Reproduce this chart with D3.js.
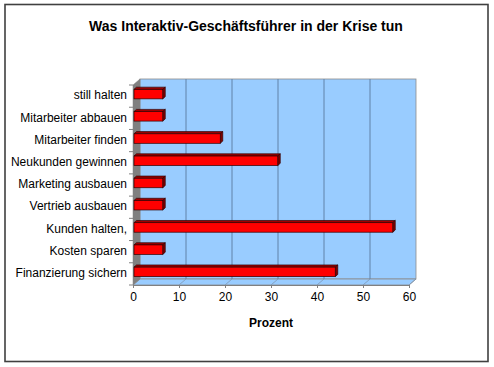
<!DOCTYPE html>
<html>
<head>
<meta charset="utf-8">
<script src="https://cdn.jsdelivr.net/npm/d3@7"></script>
<style>
  body { margin: 0; background: #fff; }
  svg { display: block; font-family: Arial, "Liberation Sans", sans-serif; }
</style>
</head>
<body>
<div id="chart"></div>
<script>
const title = "Was Interaktiv-Geschäftsführer in der Krise tun";
const categories = [
  "still halten",
  "Mitarbeiter abbauen",
  "Mitarbeiter finden",
  "Neukunden gewinnen",
  "Marketing ausbauen",
  "Vertrieb ausbauen",
  "Kunden halten,",
  "Kosten sparen",
  "Finanzierung sichern",
];
const values = [6.25, 6.25, 18.75, 31.25, 6.25, 6.25, 56.25, 6.25, 43.75];
const xTicks = [0, 10, 20, 30, 40, 50, 60];
const xTitle = "Prozent";

const width = 494;
const height = 367;

const svg = d3
  .select("#chart")
  .append("svg")
  .attr("width", width)
  .attr("height", height);

// outer frame
svg
  .append("rect")
  .attr("x", 5)
  .attr("y", 4.5)
  .attr("width", 483)
  .attr("height", 357)
  .attr("fill", "#fff")
  .attr("stroke", "#404040")
  .attr("stroke-width", 1.6);

svg
  .append("text")
  .attr("x", 246)
  .attr("y", 30.5)
  .attr("text-anchor", "middle")
  .style("font-size", "14px")
  .style("font-weight", "bold")
  .text(title);

// front plane scales, the back wall is shifted by the depth offset
const x = d3.scaleLinear().domain([0, 60]).range([133, 409]);
const y = d3.scaleBand().domain(categories).range([85, 285]);
const dx = 7;
const dy = -6;

const [y0, y1] = y.range();
const [xa, xb] = x.range();

const poly = (pts) => "M" + pts.map((p) => p.join(",")).join("L") + "Z";

// back wall
svg
  .append("rect")
  .attr("x", xa + dx)
  .attr("y", y0 + dy)
  .attr("width", xb - xa)
  .attr("height", y1 - y0)
  .attr("fill", "#99ccff")
  .attr("stroke", "#8c8c8c")
  .attr("stroke-width", 0.8);

// floor
svg
  .append("path")
  .attr("d", poly([[xa, y1], [xb, y1], [xb + dx, y1 + dy], [xa + dx, y1 + dy]]))
  .attr("fill", "#99ccff")
  .attr("stroke", "#8c8c8c")
  .attr("stroke-width", 0.8);

// side wall
svg
  .append("path")
  .attr("d", poly([[xa, y0], [xa + dx, y0 + dy], [xa + dx, y1 + dy], [xa, y1]]))
  .attr("fill", "#808080")
  .attr("stroke", "#808080")
  .attr("stroke-width", 0.5);

// gridlines on back wall and floor
const grid = svg.append("g").attr("class", "grid");
grid
  .selectAll("line.back")
  .data(xTicks.slice(1, -1))
  .enter()
  .append("line")
  .attr("class", "back")
  .attr("x1", (d) => x(d) + dx)
  .attr("x2", (d) => x(d) + dx)
  .attr("y1", y0 + dy)
  .attr("y2", y1 + dy)
  .attr("stroke", "#6182a8")
  .attr("stroke-width", 1);
grid
  .selectAll("line.floor")
  .data(xTicks.slice(1))
  .enter()
  .append("line")
  .attr("class", "floor")
  .attr("x1", (d) => x(d) + dx)
  .attr("x2", (d) => x(d))
  .attr("y1", y1 + dy)
  .attr("y2", y1)
  .attr("stroke", "#7f97b3")
  .attr("stroke-width", 0.8);

// bars: front face, top face and end face
const bh = 9.5;
const bdx = 2.5;
const bdy = -2.2;
const bars = svg
  .append("g")
  .selectAll("g")
  .data(categories.map((c, i) => ({ c, v: values[i] })))
  .enter()
  .append("g");

bars.each(function (d) {
  const g = d3.select(this);
  const xl = x(0) + 1;
  const xr = x(d.v) + 1;
  const yt = y(d.c) + y.bandwidth() / 2 - 2 - bh / 2;
  const yb = yt + bh;
  g.append("path")
    .attr("d", poly([[xl, yt], [xl + bdx, yt + bdy], [xr + bdx, yt + bdy], [xr, yt]]))
    .attr("fill", "#a00000")
    .attr("stroke", "#300000")
    .attr("stroke-width", 0.7);
  g.append("path")
    .attr("d", poly([[xr, yt], [xr + bdx, yt + bdy], [xr + bdx, yb + bdy], [xr, yb]]))
    .attr("fill", "#800000")
    .attr("stroke", "#300000")
    .attr("stroke-width", 0.7);
  g.append("rect")
    .attr("x", xl)
    .attr("y", yt)
    .attr("width", xr - xl)
    .attr("height", bh)
    .attr("fill", "#ff0000")
    .attr("stroke", "#300000")
    .attr("stroke-width", 0.7);
});

// x axis
const xAxis = svg
  .append("g")
  .attr("transform", `translate(0,${y1})`)
  .call(d3.axisBottom(x).tickValues(xTicks).tickSize(3).tickPadding(4));
xAxis.select(".domain").attr("stroke", "#808080");
xAxis.selectAll(".tick line").attr("stroke", "#808080");
xAxis.selectAll("text").style("font-size", "12px").attr("fill", "#000");

svg
  .append("text")
  .attr("x", 271)
  .attr("y", 327)
  .attr("text-anchor", "middle")
  .style("font-size", "12px")
  .style("font-weight", "bold")
  .text(xTitle);

// y axis: ticks between categories, labels centred on bands
const yAxis = svg.append("g");
yAxis
  .selectAll("line")
  .data(d3.range(categories.length + 1))
  .enter()
  .append("line")
  .attr("x1", xa - 4)
  .attr("x2", xa)
  .attr("y1", (i) => y0 + i * y.step())
  .attr("y2", (i) => y0 + i * y.step())
  .attr("stroke", "#808080");
yAxis
  .selectAll("text")
  .data(categories)
  .enter()
  .append("text")
  .attr("x", xa - 6)
  .attr("y", (d) => y(d) + y.bandwidth() / 2 - 1)
  .attr("dy", "0.35em")
  .attr("text-anchor", "end")
  .style("font-size", "12px")
  .text((d) => d);
</script>
</body>
</html>
